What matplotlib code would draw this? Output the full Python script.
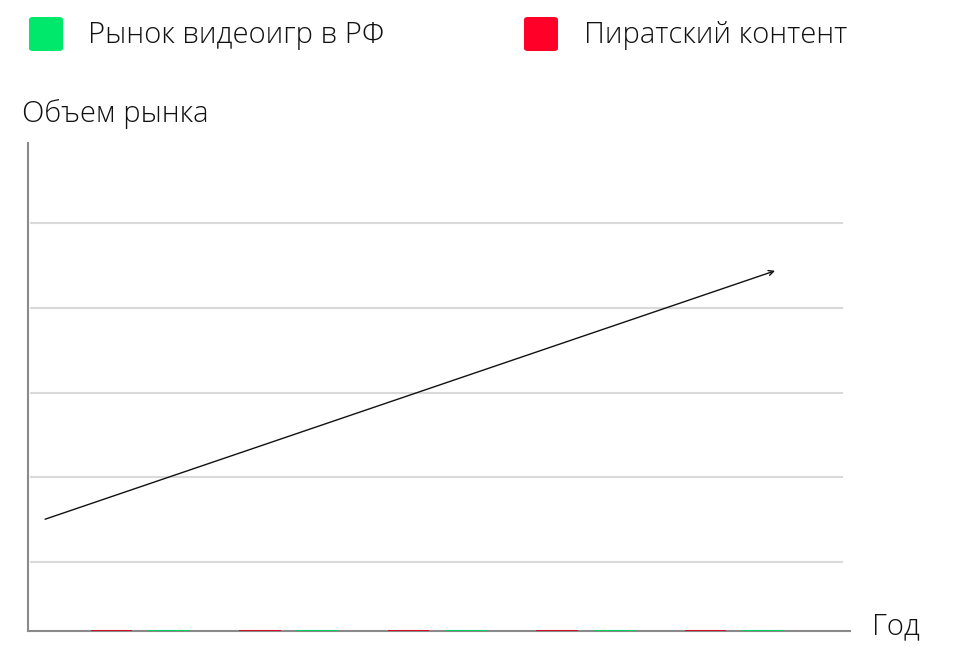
import matplotlib
matplotlib.use("Agg")
import matplotlib.pyplot as plt
from matplotlib.patches import FancyBboxPatch
import numpy as np

# Data
years = [0, 1, 2, 3, 4]
market_rf = [0, 0, 0, 0, 0]      # Рынок видеоигр в РФ
piracy = [0, 0, 0, 0, 0]         # Пиратский контент
series_names = ["Рынок видеоигр в РФ", "Пиратский контент"]
trend_start = (-0.643, 0.507)
trend_end = (4.273, 3.434)
grid_vals = [0, 1, 2, 3, 4]

GREEN = "#00E86B"
RED = "#FF0028"
FONT = "Open Sans"
FS = 21

W, H = 980, 647
fig = plt.figure(figsize=(W / 100, H / 100), dpi=100)
ax = fig.add_axes([28 / W, 1 - 631 / H, 822 / W, 488 / H])

ylo, yhi = -0.81, 4.94
ax.set_xlim(-0.758, 4.778)
ax.set_ylim(ylo, yhi)

for g in grid_vals:
    ax.axhline(g, xmin=0.004, xmax=0.99, color="#d9d9d9", lw=1.5, zorder=0)

x = np.array(years, dtype=float)
w = 0.28
ax.bar(x - 0.195, np.array(piracy) + 0.015, w, bottom=ylo, color="#d0102a", lw=0, zorder=3)
ax.bar(x + 0.19, np.array(market_rf) + 0.015, w, bottom=ylo, color="#00d060", lw=0, zorder=3)

ax.annotate("", xy=trend_end, xytext=trend_start,
            arrowprops=dict(arrowstyle="->", color="#111111", lw=1.0,
                            mutation_scale=9, shrinkA=0, shrinkB=0), zorder=4)

for s in ["top", "right"]:
    ax.spines[s].set_visible(False)
for s in ["left", "bottom"]:
    ax.spines[s].set_color("#8a8a8a")
    ax.spines[s].set_linewidth(1.5)
ax.set_xticks([])
ax.set_yticks([])

# Legend
for (x0, col, name, tx) in [(29, GREEN, series_names[0], 88), (524, RED, series_names[1], 584)]:
    p = FancyBboxPatch((x0 / W, 1 - 51 / H), 34 / W, 34 / H,
                       boxstyle="round,pad=0,rounding_size=0.004",
                       transform=fig.transFigure, color=col, lw=0)
    fig.patches.append(p)
    fig.text(tx / W, 1 - 35 / H, name, fontsize=FS, family=FONT, fontweight="light",
             va="center", ha="left", color="#111111")

fig.text(22 / W, 1 - 114 / H, "Объем рынка", fontsize=FS, family=FONT, fontweight="light",
         va="center", ha="left", color="#111111")
fig.text(872 / W, 1 - 627 / H, "Год", fontsize=FS, family=FONT, fontweight="light",
         va="center", ha="left", color="#111111")

fig.savefig("out.png", dpi=100)
